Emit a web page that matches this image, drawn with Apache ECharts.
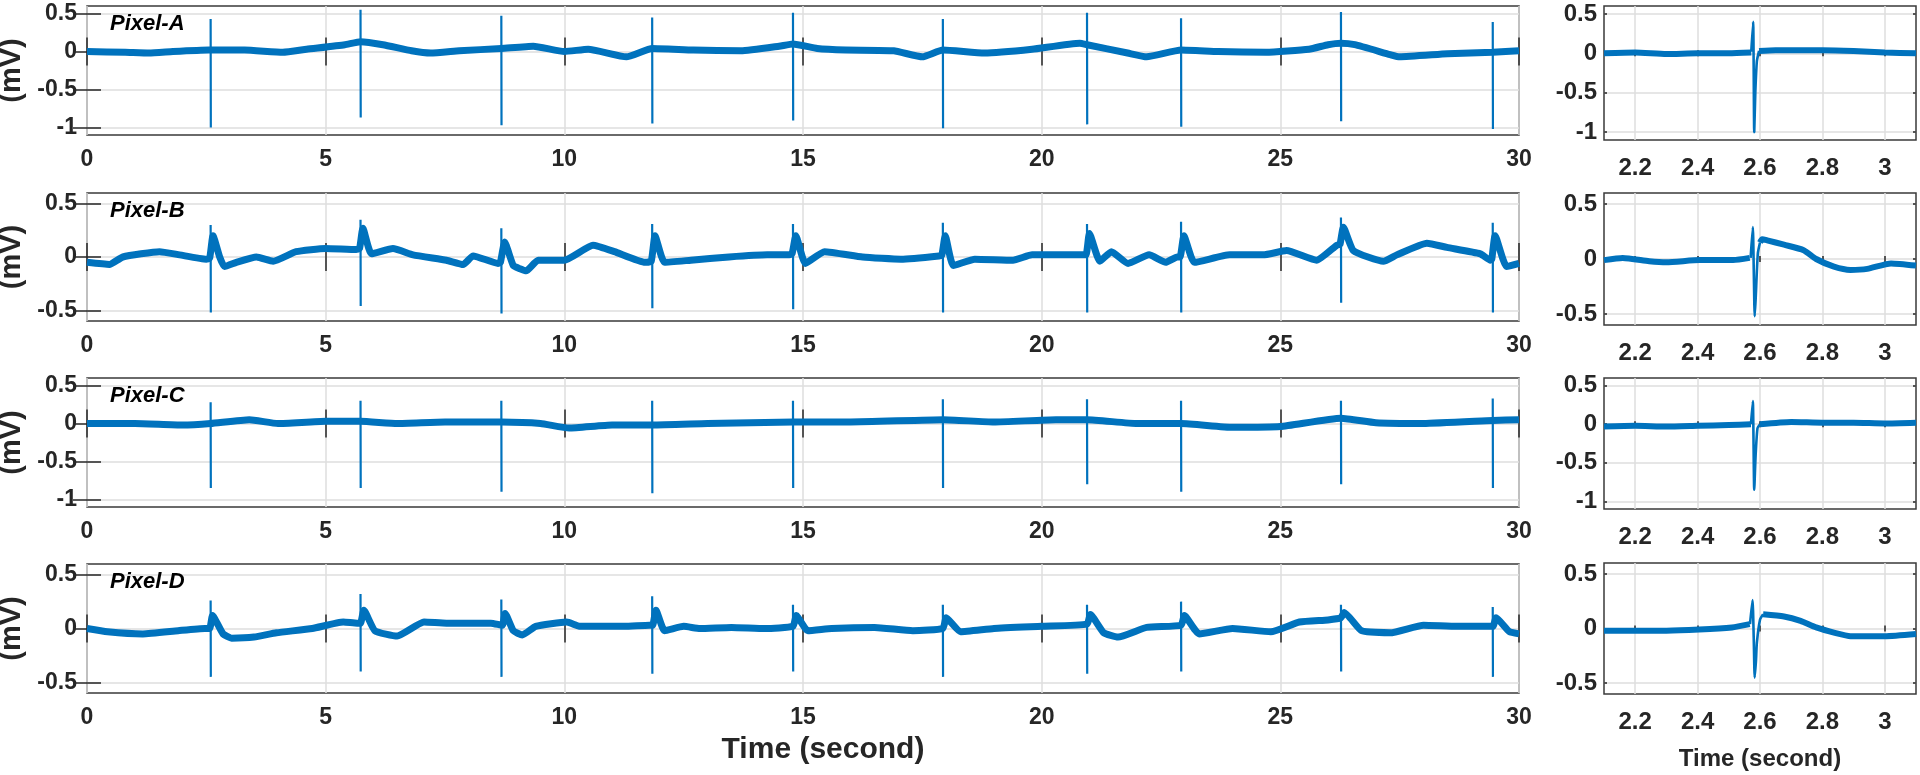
<!DOCTYPE html>
<html><head><meta charset="utf-8">
<script src="https://cdn.jsdelivr.net/npm/echarts@6/dist/echarts.min.js"></script>
<style>html,body{margin:0;padding:0;background:#fff}#c{width:1920px;height:775px}</style>
</head><body><div id="c"></div>
<script>
// ---------- DATA (time in s, value in mV) ----------
const panelNames = ['Pixel-A', 'Pixel-B', 'Pixel-C', 'Pixel-D'];
const yRanges = [[-1.1, 0.6], [-0.6, 0.6], [-1.1, 0.6], [-0.6, 0.6]];
const yTicksLong = [-1, -0.5, 0, 0.5];
const yTicksShort = [-0.5, 0, 0.5];
const zoomTicks = [2.2, 2.4, 2.6, 2.8, 3];

// R-peak times on the 30 s records
const spikeTimes = [2.59, 5.73, 8.68, 11.84, 14.79, 17.93, 20.95, 22.92, 26.27, 29.45];

const spikeTopA = [0.43, 0.55, 0.47, 0.45, 0.51, 0.43, 0.51, 0.44, 0.52, 0.39];
const spikeBotA = [-1.0, -0.87, -0.97, -0.95, -0.91, -1.01, -0.96, -0.99, -0.92, -1.02];
const spikeTopB = [0.30, 0.35, 0.27, 0.31, 0.31, 0.32, 0.31, 0.33, 0.37, 0.32];
const spikeBotB = [-0.52, -0.46, -0.53, -0.48, -0.49, -0.52, -0.52, -0.52, -0.43, -0.52];
const spikeTopC = [0.28, 0.30, 0.30, 0.30, 0.30, 0.32, 0.32, 0.30, 0.30, 0.33];
const spikeBotC = [-0.85, -0.85, -0.90, -0.92, -0.85, -0.85, -0.80, -0.90, -0.80, -0.85];
const spikeTopD = [0.26, 0.32, 0.27, 0.30, 0.22, 0.22, 0.22, 0.25, 0.22, 0.20];
const spikeBotD = [-0.45, -0.40, -0.45, -0.42, -0.40, -0.45, -0.42, -0.40, -0.40, -0.45];

// baseline (wander + T waves) of the 30 s records, [time, mV]
const wanderA = [[0,0],[0.8,-0.01],[1.3,-0.02],[1.8,0],[2.55,0.02],[3.3,0.02],[4.1,-0.01],[4.6,0.03],[5.4,0.09],[5.73,0.13],[6.2,0.09],[6.8,0.01],[7.2,-0.02],[7.8,0.01],[8.68,0.04],[9.35,0.07],[10,0],[10.5,0.03],[11.3,-0.07],[11.84,0.04],[12.7,0.02],[13.7,0.01],[14.5,0.07],[14.79,0.1],[15.3,0.04],[15.9,0.02],[16.9,0.01],[17.5,-0.07],[17.93,0.02],[18.8,-0.02],[19.8,0.03],[20.8,0.11],[20.95,0.09],[21.8,-0.02],[22.2,-0.07],[22.92,0.02],[23.7,0],[24.7,-0.01],[25.6,0.03],[26,0.09],[26.27,0.11],[26.56,0.09],[27.3,-0.04],[27.5,-0.07],[28.5,-0.03],[29.45,-0.01],[30,0.01]];
const wanderB = [[0,-0.05],[0.47,-0.07],[0.75,0],[1.52,0.05],[1.94,0.02],[2.5,-0.02],[2.57,-0.01],[2.64,0.2],[2.78,0],[2.88,-0.09],[3.13,-0.05],[3.55,0],[3.9,-0.04],[4.38,0.05],[5,0.08],[5.64,0.07],[5.71,0.08],[5.78,0.27],[5.96,0.03],[6.41,0.08],[6.83,0.02],[7.53,-0.03],[7.88,-0.07],[8.09,0.01],[8.61,-0.06],[8.66,-0.05],[8.75,0.14],[8.93,-0.08],[9.07,-0.11],[9.2,-0.13],[9.45,-0.03],[10,-0.03],[10.6,0.11],[11.05,0.05],[11.69,-0.05],[11.82,-0.04],[11.9,0.2],[12.1,-0.05],[12.65,-0.03],[13.45,0],[14.25,0.02],[14.69,0.02],[14.77,0.03],[14.85,0.2],[15.05,-0.06],[15.45,0.05],[16.25,0],[17.05,-0.02],[17.85,0.01],[17.91,0.02],[17.98,0.2],[18.15,-0.08],[18.6,-0.02],[19.4,-0.03],[19.8,0.02],[20.85,0.02],[20.93,0.02],[21,0.22],[21.22,-0.04],[21.46,0.05],[21.81,-0.06],[22.25,0.02],[22.6,-0.05],[22.84,0],[22.9,0],[22.98,0.2],[23.2,-0.05],[23.94,0.02],[24.64,0.02],[25.13,0.06],[25.76,-0.03],[26.18,0.11],[26.25,0.12],[26.32,0.28],[26.53,0.06],[27.16,-0.04],[27.44,0.02],[28.07,0.13],[28.49,0.09],[29.19,0.03],[29.4,-0.03],[29.43,-0.02],[29.5,0.2],[29.74,-0.09],[30,-0.06]];
const wanderC = [[0,0],[1,0],[2,-0.02],[2.59,0],[3.4,0.05],[4,0],[5,0.03],[5.73,0.03],[6.5,0],[7.5,0.02],[8.68,0.02],[9.5,0],[10.1,-0.06],[11,-0.02],[11.85,-0.02],[13,0],[14.8,0.02],[16,0.02],[17.94,0.05],[19,0.02],[20.3,0.05],[20.95,0.05],[22,0],[22.92,0],[24,-0.05],[25,-0.04],[26.27,0.07],[27,0.01],[28,0],[29.45,0.04],[30,0.05]];
const wanderD = [[0,0],[0.43,-0.03],[1.17,-0.05],[1.91,-0.02],[2.47,0],[2.57,0],[2.63,0.12],[2.85,-0.05],[3.03,-0.09],[3.5,-0.08],[3.97,-0.04],[4.72,0],[5.37,0.06],[5.66,0.05],[5.73,0.05],[5.8,0.17],[6.03,-0.02],[6.5,-0.07],[7.06,0.06],[7.53,0.05],[8.46,0.05],[8.7,0.03],[8.76,0.14],[8.93,-0.02],[9.12,-0.06],[9.4,0.02],[10.05,0.06],[10.33,0.02],[11.26,0.02],[11.78,0.03],[11.85,0.03],[11.92,0.17],[12.1,-0.02],[12.5,0.02],[12.84,0],[13.5,0.01],[14.2,0],[14.79,0.02],[14.86,0.12],[15.1,-0.02],[15.6,0],[16.5,0.01],[17.3,-0.02],[17.93,0],[18,0.1],[18.3,-0.03],[19,0],[20,0.02],[20.95,0.04],[21.02,0.13],[21.3,-0.04],[21.6,-0.08],[22.2,0.01],[22.92,0.03],[22.99,0.12],[23.3,-0.05],[24,0],[24.8,-0.03],[25.4,0.06],[26,0.08],[26.27,0.1],[26.34,0.15],[26.7,-0.02],[27.3,-0.04],[28,0.03],[28.7,0.02],[29.45,0.02],[29.52,0.1],[29.8,-0.03],[30,-0.05]];

// zoomed beat 2.1 - 3.1 s: baseline (null = hidden under the QRS) and QRS trace
const zoomWanderA = [[2.1,0],[2.2,0.01],[2.3,-0.01],[2.4,0],[2.5,0],[2.572,0.01],[2.58,null],[2.597,0.03],[2.65,0.04],[2.7,0.04],[2.8,0.04],[2.9,0.03],[3,0.01],[3.1,0]];
const zoomQrsA = [[2.572,0.02],[2.578,0.40],[2.5815,-1.0],[2.585,-0.5],[2.59,-0.1],[2.597,0.03]];
const zoomWanderB = [[2.1,-0.01],[2.16,0.01],[2.245,-0.02],[2.3,-0.03],[2.407,-0.01],[2.514,-0.01],[2.567,0.01],[2.58,null],[2.6,0.15],[2.607,0.18],[2.623,0.17],[2.677,0.13],[2.74,0.08],[2.78,0.0],[2.837,-0.07],[2.89,-0.1],[2.944,-0.09],[3.02,-0.04],[3.1,-0.06]];
const zoomQrsB = [[2.570,0.01],[2.577,0.29],[2.580,-0.1],[2.583,-0.52],[2.586,-0.37],[2.593,0.05],[2.6,0.15]];
const zoomWanderC = [[2.1,-0.03],[2.2,-0.02],[2.3,-0.03],[2.4,-0.02],[2.5,-0.01],[2.571,0],[2.58,null],[2.6,0],[2.7,0.03],[2.8,0.02],[2.9,0.02],[3,0.01],[3.1,0.02]];
const zoomQrsC = [[2.571,0],[2.577,0.3],[2.5815,-0.85],[2.586,-0.4],[2.592,-0.05],[2.6,0]];
const zoomWanderD = [[2.1,-0.02],[2.19,-0.02],[2.3,-0.02],[2.405,-0.01],[2.51,0.01],[2.567,0.04],[2.58,null],[2.61,0.13],[2.677,0.11],[2.73,0.07],[2.78,0.01],[2.84,-0.04],[2.89,-0.07],[3,-0.07],[3.1,-0.05]];
const zoomQrsD = [[2.568,0.04],[2.576,0.26],[2.58,-0.1],[2.583,-0.45],[2.587,-0.3],[2.59,-0.13],[2.6,0.08],[2.61,0.13]];

// ---------- BUILD ----------
const FONT = '"Liberation Sans", Arial, Helvetica, sans-serif';
const BLUE = '#0072BD';
const AX = '#262626';
const GRIDC = '#dedede';

const wanders = [wanderA, wanderB, wanderC, wanderD];
const tops = [spikeTopA, spikeTopB, spikeTopC, spikeTopD];
const bots = [spikeBotA, spikeBotB, spikeBotC, spikeBotD];
const zWanders = [zoomWanderA, zoomWanderB, zoomWanderC, zoomWanderD];
const zQrs = [zoomQrsA, zoomQrsB, zoomQrsC, zoomQrsD];

const leftBoxes = [[6,129],[193,128],[378,129],[564,129]];
const rightBoxes = [[6,134],[193,132],[378,131],[563,131]];

const grid = [], xAxis = [], yAxis = [], series = [], title = [];
const labelStyle = (size) => ({color: AX, fontFamily: FONT, fontWeight: 'bold', fontSize: size});

function addPanel(box, left, width, yr, yt, xcfg, isZoom, isLast, withName) {
  const gi = grid.length;
  grid.push({left: left, top: box[0], width: width, height: box[1], show: true,
    borderColor: '#3a3a3a', borderWidth: 1.5, backgroundColor: '#fff',
    containLabel: false, outerBoundsMode: 'none'});
  const tickLen = isZoom ? 3 : 14;
  const xBase = Object.assign({type: 'value', gridIndex: gi, min: xcfg.min, max: xcfg.max}, xcfg.ticks);
  xAxis.push(Object.assign({}, xBase, {
    position: 'bottom',
    axisLine: {show: false},
    axisTick: Object.assign({show: true, inside: true, length: tickLen, lineStyle: {color: AX, width: 1.5}}, xcfg.custom ? {customValues: xcfg.custom} : {}),
    axisLabel: Object.assign({show: true, margin: isZoom ? 16 : 13, formatter: v => String(Math.round(v * 10) / 10)}, labelStyle(isZoom ? 24 : 23), xcfg.custom ? {customValues: xcfg.custom} : {}),
    splitLine: {show: true, lineStyle: {color: GRIDC, width: 1.5}},
    name: isLast ? 'Time (second)' : '',
    nameLocation: 'middle', nameGap: isZoom ? 53 : 42,
    nameTextStyle: Object.assign(labelStyle(isZoom ? 24 : 30), isZoom ? {} : {padding: [0, 0, 0, 40]})
  }));
  xAxis.push(Object.assign({}, xBase, {
    position: 'top',
    axisLine: {show: false},
    axisTick: Object.assign({show: true, inside: true, length: tickLen, lineStyle: {color: AX, width: 1.5}}, xcfg.custom ? {customValues: xcfg.custom} : {}),
    axisLabel: {show: false},
    splitLine: {show: false}
  }));
  const yBase = {type: 'value', gridIndex: gi, min: yr[0], max: yr[1]};
  yAxis.push(Object.assign({}, yBase, {
    position: 'left',
    axisLine: {show: false},
    axisTick: {show: true, inside: true, length: tickLen, customValues: yt, lineStyle: {color: AX, width: 1.5}},
    axisLabel: Object.assign({show: true, margin: isZoom ? 7 : 10, customValues: yt, formatter: v => String(v)}, labelStyle(isZoom ? 24 : 23)),
    splitLine: {show: true, lineStyle: {color: GRIDC, width: 1.5}},
    name: withName ? '(mV)' : '',
    nameLocation: 'middle', nameGap: 53, nameRotate: 90,
    nameTextStyle: labelStyle(29)
  }));
  yAxis.push(Object.assign({}, yBase, {
    position: 'right',
    axisLine: {show: false},
    axisTick: {show: true, inside: true, length: tickLen, customValues: yt, lineStyle: {color: AX, width: 1.5}},
    axisLabel: {show: false},
    splitLine: {show: false}
  }));
  return {xi: gi * 2, yi: gi * 2};
}

for (let p = 0; p < 4; p++) {
  const yt = yRanges[p][0] < -1 ? yTicksLong : yTicksShort;
  // 30 s record
  const L = addPanel(leftBoxes[p], 87, 1432, yRanges[p], yt, {min: 0, max: 30, ticks: {interval: 5}}, false, p === 3, true);
  series.push({type: 'line', xAxisIndex: L.xi, yAxisIndex: L.yi, data: wanders[p], showSymbol: false, smooth: 0.15,
    lineStyle: {color: BLUE, width: 7, join: 'round'}, itemStyle: {color: BLUE}, silent: true, animation: false});
  const sp = [];
  spikeTimes.forEach((t, i) => { sp.push([t, tops[p][i]]); sp.push([t + 0.004, bots[p][i]]); sp.push([t + 0.005, null]); });
  series.push({type: 'line', xAxisIndex: L.xi, yAxisIndex: L.yi, data: sp, showSymbol: false, connectNulls: false,
    lineStyle: {color: BLUE, width: 2.2}, itemStyle: {color: BLUE}, silent: true, animation: false});
  title.push({text: panelNames[p], left: 110, top: leftBoxes[p][0] + 7, padding: 0,
    textStyle: {fontFamily: FONT, fontWeight: 'bold', fontStyle: 'italic', fontSize: 22, color: '#000'}});
  // zoomed beat
  const R = addPanel(rightBoxes[p], 1604, 312, yRanges[p], yt, {min: 2.1, max: 3.1, custom: zoomTicks, ticks: {}}, true, p === 3, false);
  series.push({type: 'line', xAxisIndex: R.xi, yAxisIndex: R.yi, data: zWanders[p], showSymbol: false, smooth: 0.2, connectNulls: false,
    lineStyle: {color: BLUE, width: 6, join: 'round'}, itemStyle: {color: BLUE}, silent: true, animation: false});
  series.push({type: 'line', xAxisIndex: R.xi, yAxisIndex: R.yi, data: zQrs[p], showSymbol: false, smooth: 0.2,
    lineStyle: {color: BLUE, width: 2.6}, itemStyle: {color: BLUE}, silent: true, animation: false});
}

const chart = echarts.init(document.getElementById('c'), null, {renderer: 'canvas'});
chart.setOption({backgroundColor: '#fff', animation: false, title, grid, xAxis, yAxis, series});
</script>
</body></html>
